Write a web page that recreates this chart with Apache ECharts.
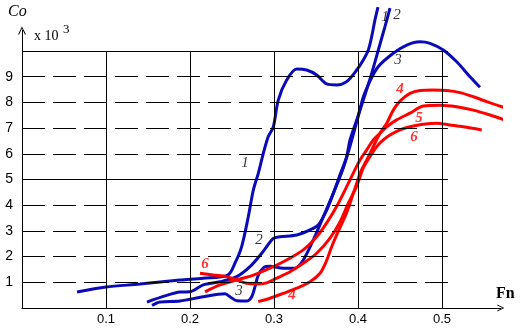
<!DOCTYPE html>
<html><head><meta charset="utf-8">
<script src="https://cdn.jsdelivr.net/npm/echarts@6/dist/echarts.min.js"></script>
<style>html,body{margin:0;padding:0;background:#fff}#c{width:523px;height:330px}</style>
</head><body><div id="c"></div>
<script>
// ---- data (Fn, Co x 10^3) ----
const xTickLabels = ['0.1', '0.2', '0.3', '0.4', '0.5'];
const yTickLabels = ['1', '2', '3', '4', '5', '6', '7', '8', '9'];
const gridXValues = [0.1, 0.2, 0.3, 0.4, 0.5];
const gridYValues = [1, 2, 3, 4, 5, 6, 7, 8, 9, 10];

const curve1 = [[0.0655,0.62],[0.1,0.82],[0.1405,0.93],[0.188,1.09],[0.2155,1.16],[0.245,1.28],[0.2536,1.75],[0.2615,2.39],[0.2694,3.55],[0.2754,4.59],[0.2813,5.24],[0.2873,6.02],[0.2932,6.67],[0.2992,7.05],[0.3051,8.09],[0.3151,8.87],[0.327,9.30],[0.3389,9.26],[0.3508,9.07],[0.3627,8.72],[0.3746,8.68],[0.3865,8.81],[0.3985,9.26],[0.4063,9.65],[0.4123,10.04],[0.4163,10.56],[0.4202,11.21],[0.4238,11.71]];
const curve2 = [[0.1488,0.23],[0.1702,0.47],[0.188,0.62],[0.2,0.63],[0.2158,0.90],[0.2357,1.02],[0.2556,1.22],[0.2714,1.61],[0.2854,2.13],[0.2992,2.71],[0.3071,2.77],[0.327,2.84],[0.3429,3.04],[0.3527,3.23],[0.3627,3.81],[0.3706,4.46],[0.3786,5.18],[0.3865,5.89],[0.3905,6.54],[0.3985,7.32],[0.4063,8.09],[0.4163,9.13],[0.4242,10.04],[0.4321,10.95],[0.4381,11.67]];
const curve3 = [[0.1548,0.10],[0.1643,0.23],[0.188,0.27],[0.2158,0.44],[0.2417,0.55],[0.2488,0.41],[0.256,0.28],[0.2675,0.27],[0.2735,0.44],[0.2774,0.83],[0.2813,1.28],[0.288,1.58],[0.2952,1.62],[0.3111,1.55],[0.325,1.55],[0.3349,1.87],[0.3468,2.65],[0.3587,3.55],[0.3706,4.46],[0.3825,5.45],[0.3905,6.30],[0.3985,7.24],[0.4063,8.21],[0.4143,8.83],[0.4238,9.38],[0.442,9.91],[0.458,10.23],[0.4738,10.36],[0.4857,10.30],[0.5015,10.04],[0.5175,9.58],[0.5333,9.00],[0.5452,8.59]];
const curve4 = [[0.2813,0.25],[0.2952,0.38],[0.3111,0.57],[0.327,0.77],[0.3429,1.02],[0.3548,1.35],[0.3619,1.79],[0.369,2.41],[0.3762,2.96],[0.3845,3.55],[0.3905,4.07],[0.3944,4.46],[0.3985,4.85],[0.4024,5.24],[0.4104,5.76],[0.4182,6.28],[0.4262,6.80],[0.4342,7.19],[0.442,7.70],[0.45,8.05],[0.4619,8.35],[0.4738,8.46],[0.4896,8.48],[0.5056,8.46],[0.5214,8.38],[0.5373,8.22],[0.5532,8.03],[0.573,7.81]];
const curve5 = [[0.2179,0.63],[0.2357,0.90],[0.2556,1.09],[0.2754,1.28],[0.2952,1.55],[0.3151,1.87],[0.3349,2.26],[0.3508,2.77],[0.3643,3.39],[0.3762,4.05],[0.3865,4.72],[0.3944,5.25],[0.4024,5.76],[0.4104,6.15],[0.4182,6.54],[0.4262,6.80],[0.4342,7.05],[0.446,7.32],[0.4619,7.58],[0.4777,7.86],[0.4976,7.89],[0.5175,7.83],[0.5373,7.70],[0.5571,7.51],[0.577,7.29],[0.5949,7.05]];
const curve6 = [[0.2119,1.35],[0.2277,1.28],[0.2437,1.22],[0.2556,1.09],[0.2675,0.96],[0.2794,0.93],[0.2913,0.98],[0.3032,1.16],[0.319,1.41],[0.3349,1.74],[0.3508,2.13],[0.3667,2.72],[0.3786,3.35],[0.3881,4.05],[0.3985,4.75],[0.4063,5.45],[0.4143,5.89],[0.4223,6.28],[0.4301,6.54],[0.4381,6.73],[0.45,6.93],[0.4619,7.05],[0.4777,7.15],[0.4937,7.19],[0.5095,7.12],[0.5254,7.05],[0.5473,6.93]];

const blueLabels = [[0.2655,5.64,'1'],[0.432,11.32,'1'],[0.282,2.65,'2'],[0.4464,11.4,'2'],[0.2583,0.66,'3'],[0.4476,9.65,'3']];
const redLabels = [[0.45,8.52,'4'],[0.3214,0.51,'4'],[0.4726,7.39,'5'],[0.2179,1.71,'6'],[0.4667,6.65,'6']];

// ---- chart ----
const BLUE = '#0A0AB8', RED = '#FF0000';
const gridRight = 0.507;
const markData = [];
gridXValues.forEach(v => markData.push([{coord:[v,0], lineStyle:{type:'solid'}},{coord:[v,10]}]));
gridYValues.forEach(v => markData.push([{coord:[0,v], lineStyle:{type: (v % 5 === 0) ? 'solid' : [23,8]}},{coord:[gridRight,v]}]));

function curveSeries(data, color) {
  return { type:'line', data, smooth:0.3, showSymbol:false, clip:false, z:3,
    lineStyle:{color, width:3}, itemStyle:{color}, silent:true, animation:false };
}
function labelSeries(arr, style) {
  return { type:'scatter', symbolSize:0, clip:false, z:5, silent:true, animation:false,
    data: arr.map(d => ({value:[d[0],d[1]], name:d[2]})),
    label:{show:true, position:'inside', formatter:p => p.name, fontFamily:'Liberation Serif', fontSize:15, fontStyle:'italic', ...style} };
}
const openArrow = 'path://M0,10 L5,0 L10,10 L8.6,10 L5,2.6 L1.4,10 Z';

const chart = echarts.init(document.getElementById('c'), null, {renderer:'canvas'});
chart.setOption({
  animation:false,
  backgroundColor:'#ffffff',
  grid:{left:22, top:30.44, width:478.8, height:277.56, containLabel:false},
  xAxis:{type:'value', min:0, max:0.57, interval:0.1,
    axisLine:{show:true, lineStyle:{color:'#000', width:1}, symbol:['none', openArrow], symbolSize:[7,10]},
    axisTick:{show:false}, splitLine:{show:false},
    axisLabel:{show:true, margin:5, color:'#000', fontFamily:'Liberation Sans Narrow, Liberation Sans', fontSize:13,
      formatter:v => { const k = Math.round(v*10); return (Math.abs(v*10-k)<1e-6 && k>=1 && k<=5) ? xTickLabels[k-1] : ''; }}},
  yAxis:{type:'value', min:0, max:10.8, interval:1,
    axisLine:{show:true, lineStyle:{color:'#000', width:1}, symbol:['none', openArrow], symbolSize:[8,10]},
    axisTick:{show:false}, splitLine:{show:false},
    axisLabel:{show:true, margin:9, color:'#000', fontFamily:'Liberation Sans Narrow, Liberation Sans', fontSize:14,
      formatter:v => { const k = Math.round(v); return (Math.abs(v-k)<1e-6 && k>=1 && k<=9) ? yTickLabels[k-1] : ''; }}},
  series:[
    { type:'line', data:[], z:1, silent:true, animation:false,
      markLine:{silent:true, symbol:'none', animation:false, label:{show:false},
        lineStyle:{color:'#000', width:1, type:'solid'}, emphasis:{disabled:true}, data:markData} },
    curveSeries(curve1, BLUE), curveSeries(curve2, BLUE), curveSeries(curve3, BLUE),
    curveSeries(curve4, RED), curveSeries(curve5, RED), curveSeries(curve6, RED),
    labelSeries(blueLabels, {color:'#000'}),
    labelSeries(redLabels, {color:RED, fontWeight:'bold'})
  ],
  graphic:[
    {type:'text', left:8, top:4, style:{text:'Co', font:'italic 16px "Liberation Serif"', fill:'#000'}},
    {type:'text', left:34, top:29, style:{text:'x 10', font:'14px "Liberation Serif"', fill:'#000'}},
    {type:'text', left:63, top:23, style:{text:'3', font:'13px "Liberation Serif"', fill:'#000'}},
    {type:'text', left:496, top:286, style:{text:'Fn', font:'bold 16px "Liberation Serif"', fill:'#000'}}
  ]
});
</script></body></html>
